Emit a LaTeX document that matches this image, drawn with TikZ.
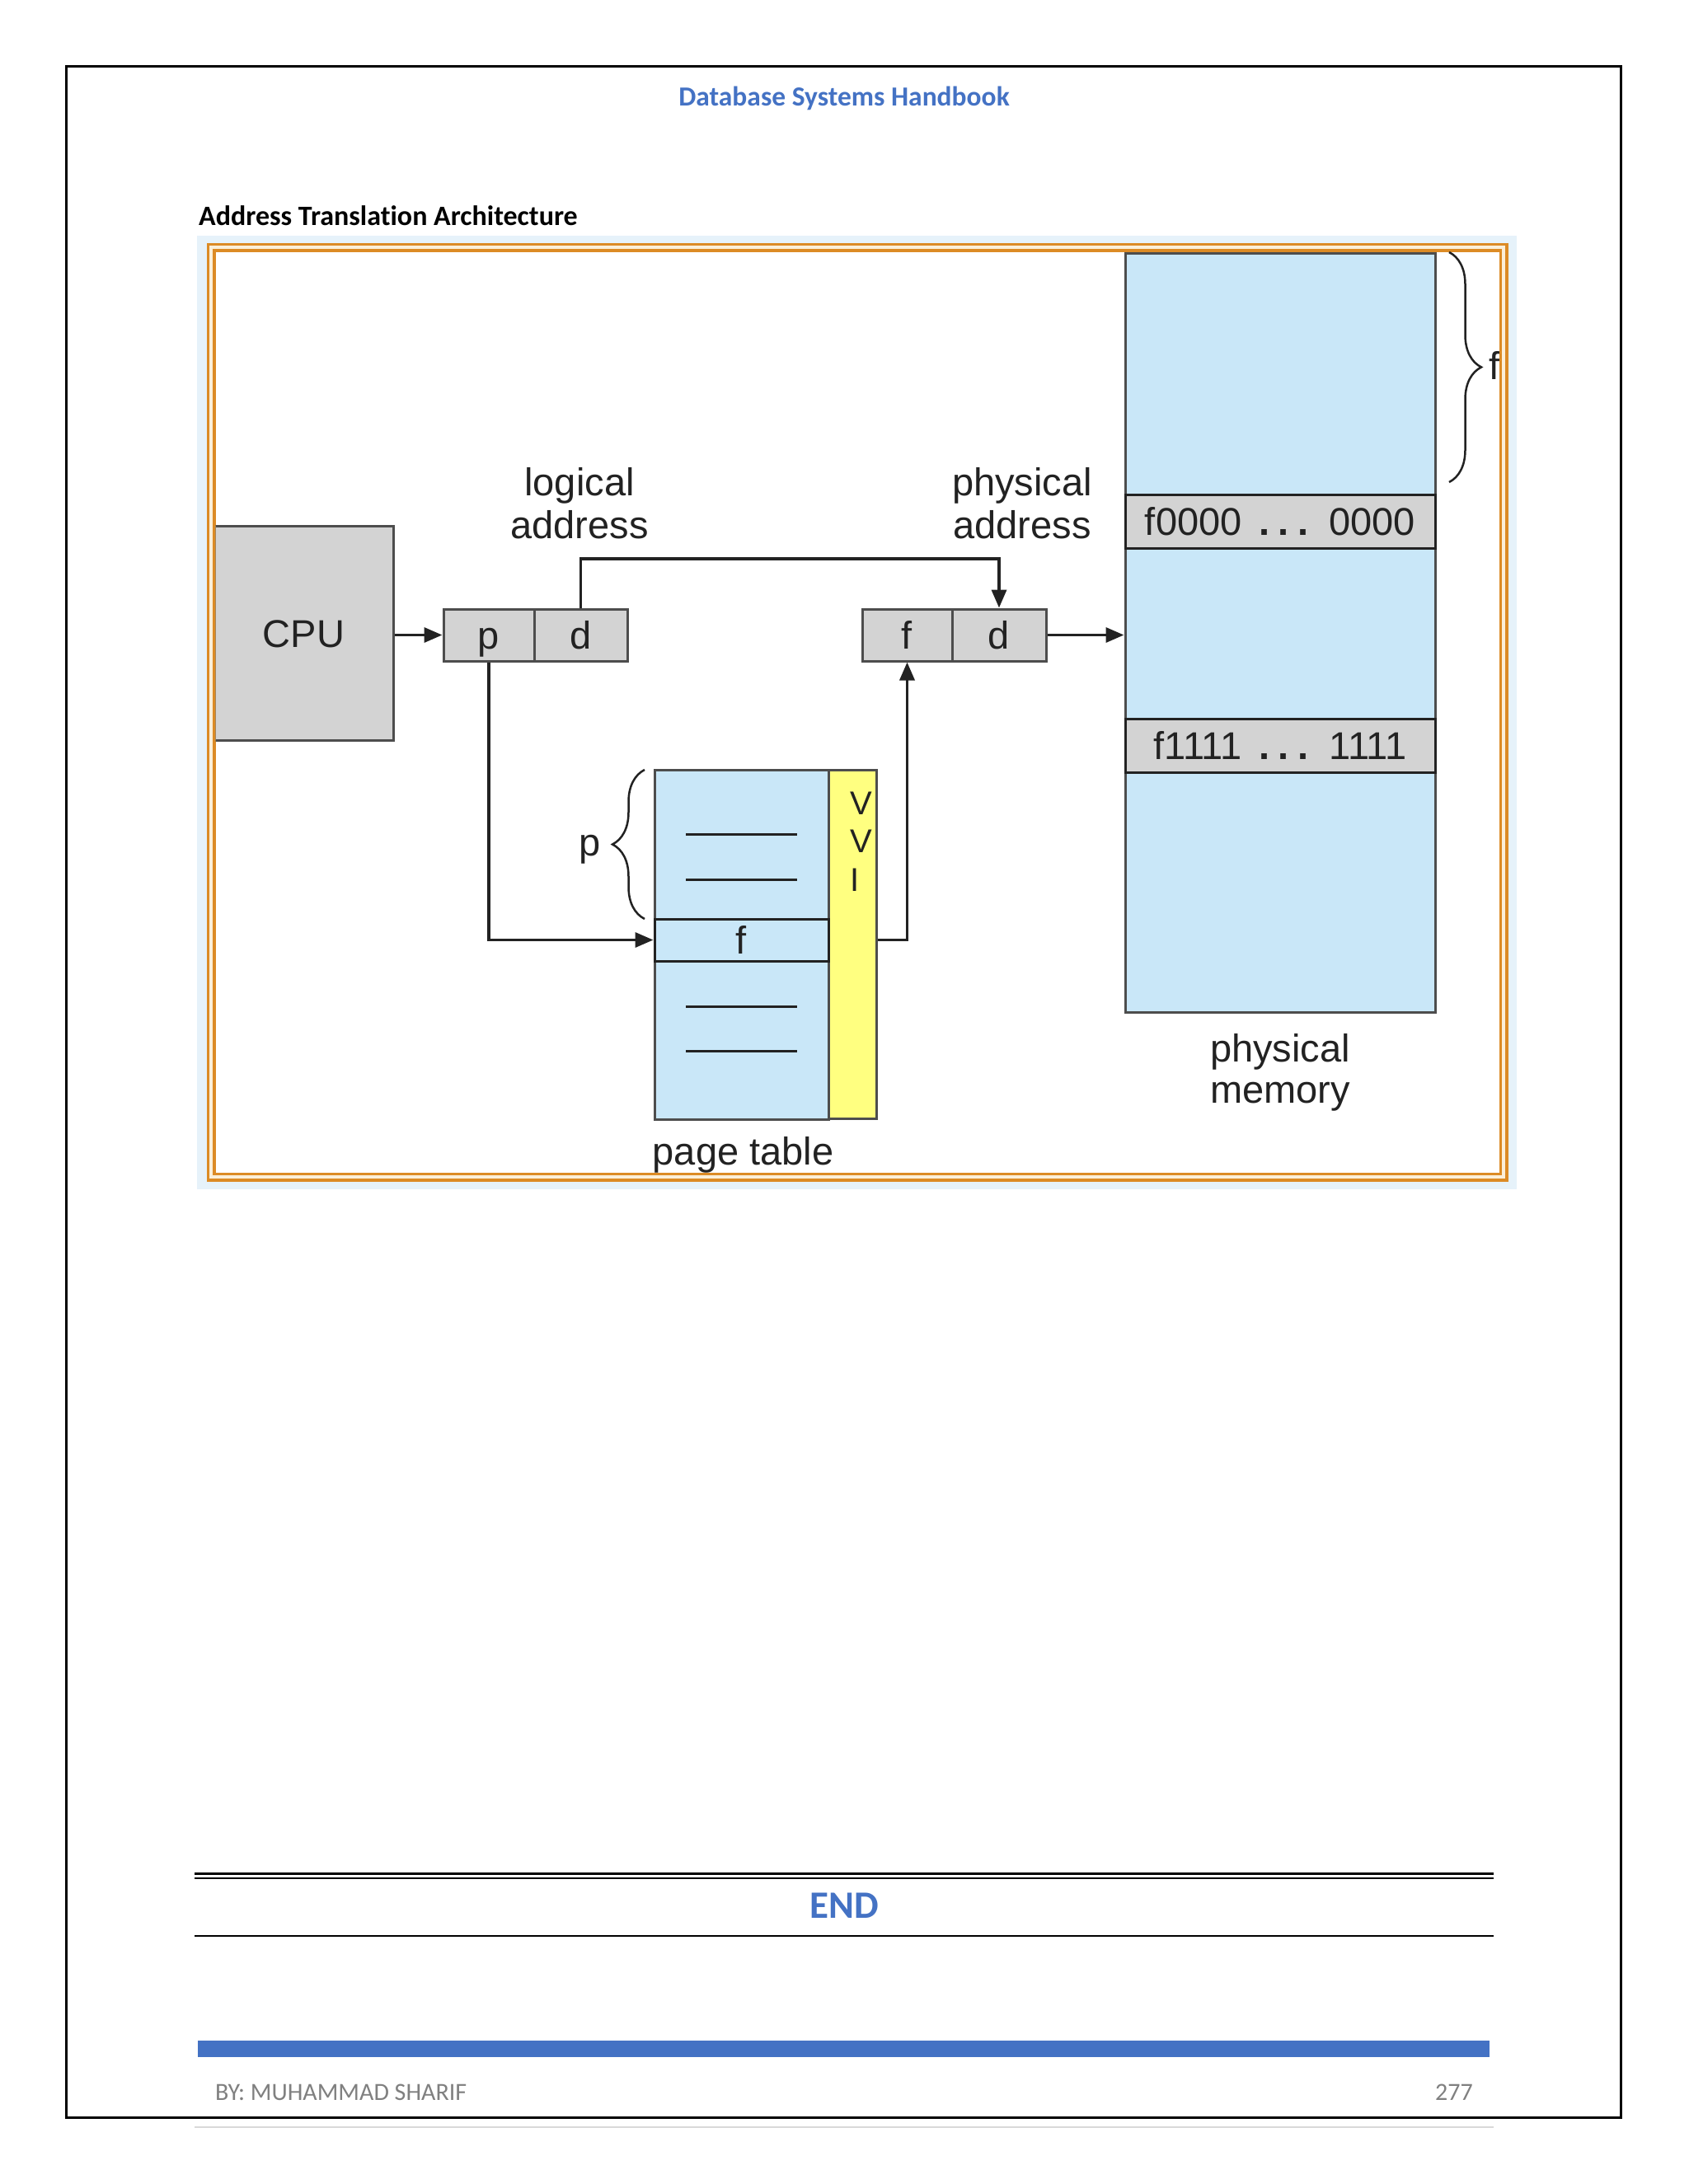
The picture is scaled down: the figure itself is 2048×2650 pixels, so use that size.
\documentclass[tikz,border=0pt]{standalone}
\usepackage{fontspec}
\setmainfont{Carlito}[Ligatures=NoCommon]
\newfontfamily\hvfont{Liberation Sans}
\usetikzlibrary{arrows.meta,decorations.pathreplacing}
\definecolor{hdrblue}{HTML}{4472C4}
\definecolor{memblue}{HTML}{C9E7F8}
\definecolor{boxgray}{HTML}{D3D3D3}
\definecolor{ptyellow}{HTML}{FFFF80}
\definecolor{framebg}{HTML}{E6F2FA}
\definecolor{frameor}{HTML}{DC8B25}
\definecolor{framecream}{HTML}{FBEFD8}
\definecolor{ink}{HTML}{222222}
\definecolor{edgegray}{HTML}{4D4D4D}
\definecolor{footgray}{HTML}{808080}
\definecolor{rulegray}{HTML}{D9D9D9}
\newcommand{\bdots}{\,\textbf{.}\hspace{0.22em}\textbf{.}\hspace{0.22em}\textbf{.}\,}
\tikzset{
  hvtext/.style={font=\hvfont\fontsize{47}{52}\selectfont, text=ink},
  celltext/.style={hvtext, text height=34pt, text depth=0pt},
  cellbox/.style={draw=edgegray, line width=3pt, fill=boxgray, inner sep=0pt, celltext},
  membox/.style={draw=edgegray, line width=3pt, fill=memblue, inner sep=0pt},
  bandbox/.style={draw=ink, line width=3pt, fill=boxgray, inner sep=0pt, celltext},
  ylwbox/.style={draw=edgegray, line width=3pt, fill=ptyellow, inner sep=0pt},
  conn/.style={draw=ink, line width=3.5pt},
  arr/.style={conn, -{Triangle[length=22pt,width=18pt]}},
  lbl/.style={hvtext, inner sep=0pt, align=center},
  entryline/.style={draw=ink, line width=3pt},
  curly/.style={draw=ink, line width=2.5pt, decorate, decoration={brace, amplitude=39pt}},
  pagefont/.style={font=\bfseries\fontsize{33.5}{40}\selectfont, inner sep=0pt},
}
\begin{document}
\begin{tikzpicture}[x=1pt,y=-1pt]
\useasboundingbox (0,0) rectangle (2048,2650);
\fill[white] (0,0) rectangle (2048,2650);
% page border
\draw[line width=3pt] (80,80) rectangle (1966,2569);
\node[pagefont, anchor=base, text=hdrblue] (hdr) at (1024,128) {Database Systems Handbook};
\node[pagefont, font=\bfseries\fontsize{34}{40}\selectfont, anchor=base west] (title) at (241,273) {Address Translation Architecture};
% picture frame
\fill[framebg] (239,286) rectangle (1840,1443);
\fill[frameor] (250.5,294.5) rectangle (1829.5,1433.5);
\fill[framecream] (254,298) rectangle (1826,1430);
\fill[frameor] (258,302) rectangle (1822,1426);
\fill[white] (261.5,305.5) rectangle (1818.5,1422.5);
\begin{scope}
\clip (261.5,305.5) rectangle (1818.5,1422.5);
% CPU and address registers
\node[cellbox, minimum width=217pt, minimum height=260pt] (cpu) at (368.5,768) {CPU};
\node[cellbox, minimum width=110pt, minimum height=63pt] (la-p) at (593,770.5) {p};
\node[cellbox, minimum width=113pt, minimum height=63pt] (la-d) at (704.5,770.5) {d};
\node[cellbox, minimum width=109pt, minimum height=63pt] (pa-f) at (1100.5,770.5) {f};
\node[cellbox, minimum width=114pt, minimum height=63pt] (pa-d) at (1212,770.5) {d};
% physical memory
\node[membox, minimum width=376pt, minimum height=921pt] (mem) at (1553,767.5) {};
\node[bandbox, minimum width=376pt, minimum height=65pt] (band0) at (1553,632.5) {f0000 \bdots{} 0000};
\node[bandbox, minimum width=376pt, minimum height=65pt] (band1) at (1553,904.5) {f1111 \bdots{} 1111};
% page table
\node[membox, minimum width=211pt, minimum height=424pt] (ptab) at (899.5,1146) {};
\node[ylwbox, minimum width=58pt, minimum height=423pt] (vcol) at (1034,1145.5) {};
\node[membox, draw=ink, minimum width=211pt, minimum height=51pt, celltext] (frow) at (899.5,1140.5) {f};
\draw[entryline] (832,1012) -- (967,1012);
\draw[entryline] (832,1067) -- (967,1067);
\draw[entryline] (832,1221) -- (967,1221);
\draw[entryline] (832,1275) -- (967,1275);
\node[hvtext, font=\hvfont\fontsize{40}{46.5}\selectfont, anchor=base west, inner sep=0pt, align=left] (vvi) at (1031,1081) {V\\V\\I};
% labels
\node[lbl, anchor=base] (lal) at (703,653) {logical\\address};
\node[lbl, anchor=base] (pal) at (1240,653) {physical\\address};
\node[lbl, font=\hvfont\fontsize{47}{50}\selectfont, anchor=base] (pml) at (1553,1338) {physical\\memory};
\node[lbl, anchor=base] (ptl) at (901.5,1413) {page table};
\node[lbl, anchor=base] (plbl) at (716,1038) {p};
\node[lbl, anchor=base west] (flbl) at (1806,460) {f};
% braces
\draw[curly] (1758,306) -- (1758,585);
\draw[curly] (782,1115) -- (782,934);
% connectors
\coordinate (ovl) at (0,678);
\draw[arr] (cpu.east |- la-p.west) -- (la-p.west);
\draw[arr] (la-d.north) -- (la-d.north |- ovl) -| (pa-d.north);
\draw[arr] (la-p.south) |- (frow.west);
\draw[arr] (vcol.east |- frow.east) -| (pa-f.south);
\draw[arr] (pa-d.east) -- (mem.west |- pa-d.east);
\end{scope}
% END section
\draw[line width=2.5pt] (236,2273.5) -- (1812,2273.5);
\draw[line width=2.5pt] (236,2279) -- (1812,2279);
\node[anchor=base, text=hdrblue, font=\bfseries\fontsize{47}{56}\selectfont, inner sep=0pt] (endtxt) at (1024,2327) {END};
\draw[line width=2.5pt] (236,2349) -- (1812,2349);
% footer
\fill[hdrblue] (240,2476) rectangle (1807,2496);
\node[anchor=base west, text=footgray, font=\fontsize{30}{36}\selectfont, inner sep=0pt] (author) at (261,2548) {BY: MUHAMMAD SHARIF};
\node[anchor=base east, text=footgray, font=\fontsize{30}{36}\selectfont, inner sep=0pt] (pgno) at (1787,2548) {277};
\draw[rulegray, line width=2pt] (236,2581) -- (1812,2581);
\end{tikzpicture}
\end{document}
